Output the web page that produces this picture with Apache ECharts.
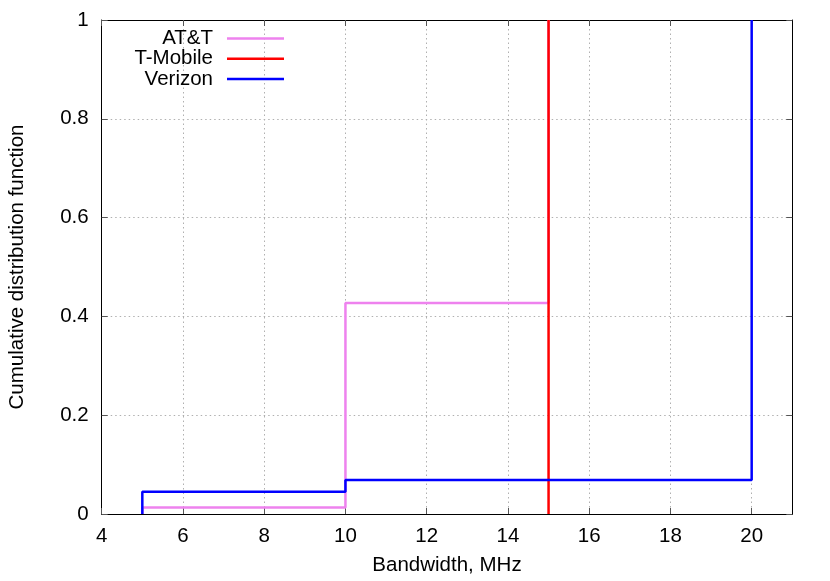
<!DOCTYPE html>
<html>
<head>
<meta charset="utf-8">
<script src="https://cdn.jsdelivr.net/npm/echarts@6/dist/echarts.min.js"></script>
<style>html,body{margin:0;padding:0;background:#fff}#c{width:830px;height:581px}</style>
</head>
<body>
<div id="c"></div>
<script>
var seriesNames = ['AT&T', 'T-Mobile', 'Verizon'];
var seriesColors = ['#ee82ee', '#ff0000', '#0000ff'];
// step CDF points [bandwidth MHz, cumulative fraction]
var attX = [5, 5, 10, 10, 15, 15];
var attY = [0, 0.013, 0.013, 0.427, 0.427, 1];
var tmoX = [15, 15];
var tmoY = [0, 1];
var vzwX = [5, 5, 10, 10, 20, 20];
var vzwY = [0, 0.045, 0.045, 0.069, 0.069, 1];
var xTicks = [4, 6, 8, 10, 12, 14, 16, 18, 20];
var yTicks = [0, 0.2, 0.4, 0.6, 0.8, 1];

function pts(xs, ys) { return xs.map(function (x, i) { return [x, ys[i]]; }); }

var FONT = 'Liberation Sans, Arial, Helvetica, sans-serif';
var FS = 20.5;
var chart = echarts.init(document.getElementById('c'), null, {renderer: 'canvas'});

var axisCommon = {
  axisLine: {show: true, onZero: false, lineStyle: {color: '#000', width: 1}},
  axisTick: {show: true, inside: true, length: 6, lineStyle: {color: '#555', width: 1}}
};

var xBase = {type: 'value', min: 4, max: 21, interval: 2};
var yBase = {type: 'value', min: 0, max: 1, interval: 0.2};

var legends = seriesNames.map(function (n, i) {
  return {
    data: [{name: n, icon: 'rect'}],
    right: 830 - 284,
    top: 28 + i * 20.3,
    padding: 0,
    orient: 'horizontal',
    align: 'right',
    itemWidth: 57,
    itemHeight: 2.5,
    selectedMode: false,
    textStyle: {fontFamily: FONT, fontSize: FS, color: '#000', padding: [0, 9, 0, 0]}
  };
});

chart.setOption({
  animation: false,
  backgroundColor: '#fff',
  grid: {left: 101.7, right: 37.7, top: 20, bottom: 67, containLabel: false, outerBoundsMode: 'none'},
  legend: legends,
  xAxis: [
    Object.assign({}, xBase, axisCommon, {
      position: 'bottom',
      name: 'Bandwidth, MHz', nameLocation: 'middle', nameGap: 41,
      nameTextStyle: {fontFamily: FONT, fontSize: FS, color: '#000'},
      axisLabel: {show: true, margin: 12, fontFamily: FONT, fontSize: FS, color: '#000',
        customValues: xTicks},
      axisTick: {show: true, inside: true, length: 6, lineStyle: {color: '#555'}, customValues: xTicks},
      splitLine: {show: true, lineStyle: {color: '#b0b0b0', width: 1, type: [1.5, 3]}}
    }),
    Object.assign({}, xBase, axisCommon, {
      position: 'top',
      axisLabel: {show: false},
      axisTick: {show: true, inside: true, length: 6, lineStyle: {color: '#555'}, customValues: xTicks},
      splitLine: {show: false}
    })
  ],
  yAxis: [
    Object.assign({}, yBase, axisCommon, {
      position: 'left',
      name: 'Cumulative distribution function', nameLocation: 'middle', nameGap: 74,
      nameTextStyle: {fontFamily: FONT, fontSize: FS, color: '#000'},
      axisLabel: {show: true, margin: 13, fontFamily: FONT, fontSize: FS, color: '#000'},
      splitLine: {show: true, lineStyle: {color: '#b0b0b0', width: 1, type: [1.5, 3]}}
    }),
    Object.assign({}, yBase, axisCommon, {
      position: 'right',
      axisLabel: {show: false},
      splitLine: {show: false}
    })
  ],
  series: [
    {name: seriesNames[0], type: 'line', data: pts(attX, attY), symbol: 'none',
      lineStyle: {color: seriesColors[0], width: 2.5}, itemStyle: {color: seriesColors[0]}, z: 2},
    {name: seriesNames[1], type: 'line', data: pts(tmoX, tmoY), symbol: 'none',
      lineStyle: {color: seriesColors[1], width: 2.5}, itemStyle: {color: seriesColors[1]}, z: 3},
    {name: seriesNames[2], type: 'line', data: pts(vzwX, vzwY), symbol: 'none',
      lineStyle: {color: seriesColors[2], width: 2.5}, itemStyle: {color: seriesColors[2]}, z: 4}
  ]
});
</script>
</body>
</html>
